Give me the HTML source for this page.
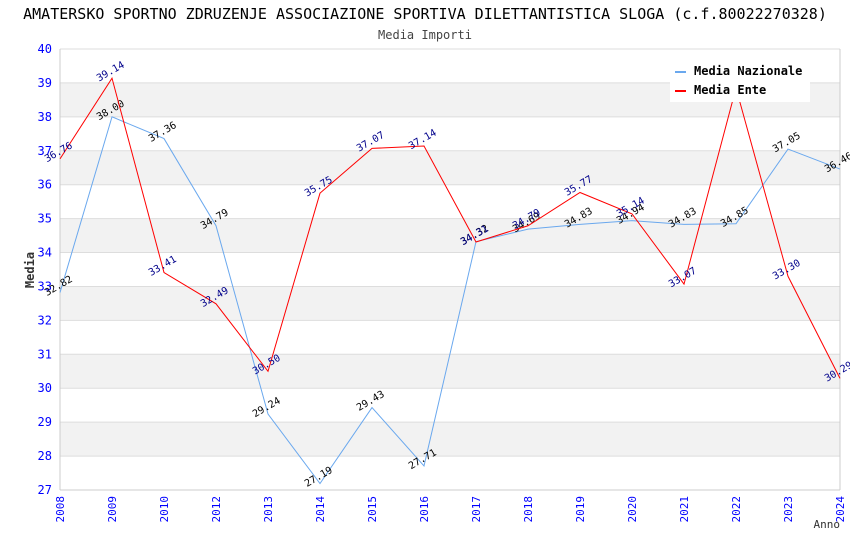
<!DOCTYPE html>
<html><head><meta charset="utf-8"><style>
body{margin:0;background:#fff;font-family:"DejaVu Sans Mono","Liberation Mono",monospace}
</style></head><body>
<svg id="c" width="850" height="550" xmlns="http://www.w3.org/2000/svg"></svg>
<script>
const years=["2008","2009","2010","2012","2013","2014","2015","2016","2017","2018","2019","2020","2021","2022","2023","2024"];
const nazionale=[32.82,38.00,37.36,34.79,29.24,27.19,29.43,27.71,34.32,34.69,34.83,34.94,34.83,34.85,37.05,36.46];
const ente=[36.76,39.14,33.41,32.49,30.50,35.75,37.07,37.14,34.31,34.79,35.77,35.14,33.07,38.85,33.30,30.29];
const yTicks=[27,28,29,30,31,32,33,34,35,36,37,38,39,40];
const L=60,R=840,T=49,B=490,ymin=27,ymax=40;
const sx=i=>L+i*(R-L)/(years.length-1);
const sy=v=>B-(v-ymin)/(ymax-ymin)*(B-T);
const svg=document.getElementById('c');const NS='http://www.w3.org/2000/svg';
function mk(t,a,txt){const e=document.createElementNS(NS,t);for(const k in a)e.setAttribute(k,a[k]);if(txt!==undefined)e.textContent=txt;svg.appendChild(e);return e;}
for(let k=ymin;k<ymax;k++){if(k%2==0){const r=mk('rect',{x:L,y:sy(k+1),width:R-L,height:sy(k)-sy(k+1),fill:'#f2f2f2'});

}}
yTicks.forEach(v=>{const g=mk('line',{x1:L,x2:R,y1:sy(v),y2:sy(v),stroke:'#ddd'});


const t=mk('text',{x:L-8,y:sy(v)+4,'text-anchor':'end','font-size':12,fill:'#00f'},v);

});
mk('line',{x1:L,x2:L,y1:T,y2:B,stroke:'#ccc'});mk('line',{x1:R,x2:R,y1:T,y2:B,stroke:'#ccc'});mk('line',{x1:L,x2:R,y1:B,y2:B,stroke:'#ccc'});
years.forEach((y,i)=>{const t=mk('text',{x:0,y:0,'text-anchor':'end','font-size':11,fill:'#00f',transform:`translate(${sx(i)+4},${B+6}) rotate(-90)`},y);

});
function series(arr,color,lc,name){const p=mk('polyline',{points:arr.map((v,i)=>sx(i)+','+sy(v)).join(' '),fill:'none',stroke:color,'stroke-width':1});


arr.forEach((v,i)=>{const t=mk('text',{x:0,y:0,'text-anchor':'middle','font-size':10,fill:lc,transform:`translate(${sx(i)},${sy(v)-4}) rotate(-30)`},v.toFixed(2));

});}
series(nazionale,'#6aa8ee','#000','line-nazionale');
series(ente,'#f00','#00008b','line-ente');
mk('rect',{x:670,y:60,width:140,height:42,fill:'#fff'});
mk('rect',{x:675,y:71,width:11,height:2,fill:'#6aa8ee'});mk('rect',{x:675,y:90,width:11,height:2,fill:'#f00'});
const l1=mk('text',{x:694,y:75,'font-size':12,'font-weight':'bold'},'Media Nazionale');

const l2=mk('text',{x:694,y:94,'font-size':12,'font-weight':'bold'},'Media Ente');

const ti=mk('text',{x:425,y:19,'text-anchor':'middle','font-size':15},'AMATERSKO SPORTNO ZDRUZENJE ASSOCIAZIONE SPORTIVA DILETTANTISTICA SLOGA (c.f.80022270328)');

const st=mk('text',{x:425,y:39,'text-anchor':'middle','font-size':12,fill:'#444'},'Media Importi');

const ya=mk('text',{x:0,y:0,'text-anchor':'middle','font-size':12,'font-weight':'bold',fill:'#333',transform:'translate(34,270) rotate(-90)'},'Media');

const xa=mk('text',{x:840,y:528,'text-anchor':'end','font-size':11,fill:'#333'},'Anno');

</script>
</body></html>
